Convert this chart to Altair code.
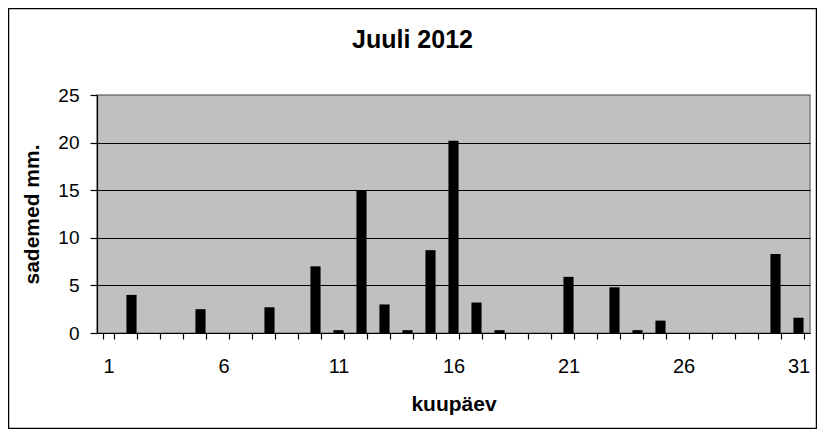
import altair as alt
import pandas as pd

# daily rainfall, July 2012
days = list(range(1, 32))
rain = [0, 4.0, 0, 0, 2.5, 0, 0, 2.7, 0, 7.0,
        0.3, 15.0, 3.0, 0.3, 8.7, 20.2, 3.2, 0.3, 0, 0,
        5.9, 0, 4.8, 0.3, 1.3, 0, 0, 0, 0, 8.3,
        1.6]
y_ticks = [0, 5, 10, 15, 20, 25]

df = pd.DataFrame({'kuupaev': days, 'sademed': rain})
FONT = 'Liberation Sans'

bars = alt.Chart(df).mark_bar(color='black').encode(
    x=alt.X('kuupaev:O', title='kuupäev',
            scale=alt.Scale(paddingInner=0.56, paddingOuter=0.28),
            axis=alt.Axis(labelAngle=0, tickBand='extent', grid=False,
                          labelExpr="(datum.value - 1) % 5 == 0 ? datum.label : ''",
                          labelFontSize=20, labelPadding=17, tickSize=6,
                          titleFontSize=21, titlePadding=17)),
    y=alt.Y('sademed:Q', title='sademed mm.',
            scale=alt.Scale(domain=[0, 25], nice=False),
            axis=alt.Axis(values=y_ticks, labelFontSize=19, labelPadding=11, tickSize=7,
                          titleFontSize=21, titlePadding=15,
                          gridColor={'condition': {'test': 'datum.value === 25', 'value': '#808080'},
                                     'value': 'black'}))
)

# thin outer border around the whole chart
frame = alt.Chart(pd.DataFrame({'a': [0]})).mark_rect(
    fill=None, stroke='black', strokeWidth=1.5, clip=False
).encode(
    x=alt.value(-88.5), x2=alt.value(719.5),
    y=alt.value(-86.5), y2=alt.value(333.5)
)

chart = alt.layer(bars, frame).properties(
    width=713, height=238,
    autosize=alt.AutoSizeParams(type='none'),
    padding={'left': 89, 'top': 87, 'right': 7, 'bottom': 96},
    title=alt.Title('Juuli 2012', fontSize=25, font=FONT, fontWeight='bold',
                    anchor='middle', frame='group', dx=-41, offset=-65,
                    baseline='alphabetic', color='black')
).configure_view(
    fill='#C0C0C0', stroke='#808080', strokeWidth=1.5
).configure_axis(
    labelFont=FONT, titleFont=FONT, titleFontWeight='bold',
    labelColor='black', titleColor='black',
    domainColor='black', tickColor='black', domainWidth=1.2, tickWidth=1.2,
    gridWidth=1.2
)

chart.save("out.html", embed_options={"renderer": "svg", "actions": False})
